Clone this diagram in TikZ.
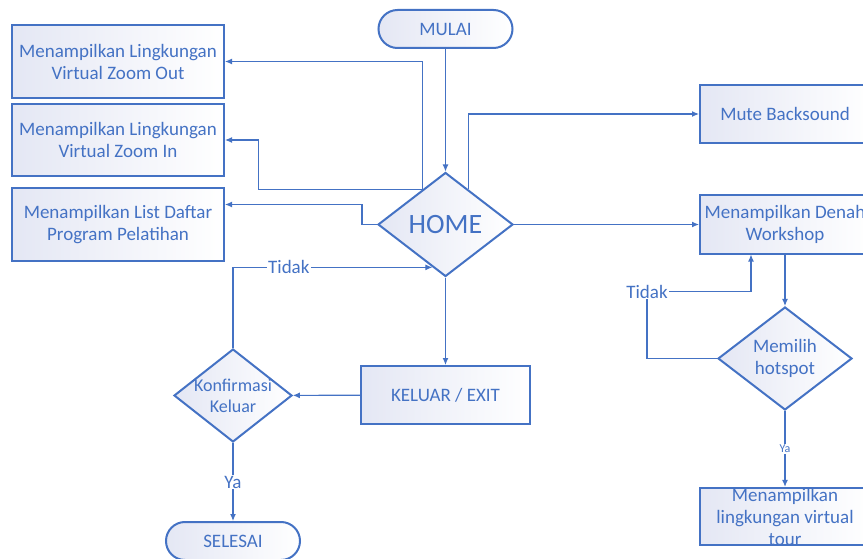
\documentclass[tikz,border=0pt]{standalone}
\usepackage{fontspec}
\setmainfont{Carlito}
\usetikzlibrary{arrows.meta,shapes.geometric}
\definecolor{flowblue}{HTML}{4472C4}
\definecolor{flowfill}{HTML}{E4E7F4}

\begin{document}
\begin{tikzpicture}[
  x=1pt,
  y=-1pt,
  every node/.style={text=flowblue, font=\fontsize{19}{22}\selectfont},
  terminal/.style={draw=flowblue, line width=2pt, rounded corners=19pt, minimum width=134pt, minimum height=38pt, left color=flowfill, right color=white},
  process/.style={draw=flowblue, line width=2pt, align=center, minimum width=212pt, minimum height=73pt, inner sep=0pt, left color=flowfill, right color=white},
  decision/.style={draw=flowblue, line width=2pt, diamond, align=center, inner sep=-14pt, left color=flowfill, right color=white},
  lbl/.style={fill=white, inner sep=1pt},
  arr/.style={-{Latex[length=7pt,width=6pt]}, draw=flowblue, line width=1.1pt}
]
\useasboundingbox (0,0) rectangle (863,559);

\node[terminal] (mulai) at (445.5,29) {MULAI};
\node[decision, minimum width=135pt, minimum height=104pt, font=\fontsize{28}{32}\selectfont] (home) at (445.5,224.5) {HOME};
\node[process] (zoomout) at (118,61.5) {Menampilkan Lingkungan\\Virtual Zoom Out};
\node[process, minimum height=72pt] (zoomin) at (118,140) {Menampilkan Lingkungan\\Virtual Zoom In};
\node[process] (daftar) at (118,224.5) {Menampilkan List Daftar\\Program Pelatihan};
\node[process, minimum width=170pt, minimum height=58pt] (mute) at (785,114) {Mute Backsound};
\node[process, minimum width=170pt, minimum height=58pt] (denah) at (785,224.5) {Menampilkan Denah\\Workshop};
\node[decision, minimum width=134pt, minimum height=103pt] (hotspot) at (785,358.5) {Memilih\\hotspot};
\node[process, minimum width=170pt, minimum height=57pt] (tour) at (785,516.5) {Menampilkan\\lingkungan virtual\\tour};
\node[process, minimum width=169pt, minimum height=58pt] (keluar) at (445.5,395) {KELUAR / EXIT};
\node[decision, minimum width=118pt, minimum height=93pt, font=\fontsize{18}{21}\selectfont] (konfirmasi) at (233,395.5) {Konfirmasi\\Keluar};
\node[terminal] (selesai) at (233,541) {SELESAI};

\draw[arr] (mulai) -- (home);
\draw[arr] (home.123) |- (zoomout.east);
\draw[arr] (home.123) -- ++(-164,0) |- (zoomin.east);
\draw[arr] (home.west) -- ++(-15,0) |- ([yshift=20pt]daftar.east);
\draw[arr] (home.57) |- (mute.west);
\draw[arr] (home) -- (denah);
\draw[arr] (home) -- (keluar);
\draw[arr] (keluar) -- (konfirmasi);
\draw[arr] (konfirmasi.north) |- node[lbl, pos=0.64]{Tidak} (home.253);
\draw[arr] (konfirmasi) -- node[lbl]{Ya} (selesai);
\draw[arr] (denah) -- (hotspot);
\draw[arr] (hotspot.west) -- ++(-70,0) -- ++(0,-67) node[lbl]{Tidak} -| ([xshift=-34pt]denah.south);
\draw[arr] (hotspot) -- node[lbl, font=\fontsize{12}{13}\selectfont]{Ya} (tour);

\end{tikzpicture}
\end{document}
